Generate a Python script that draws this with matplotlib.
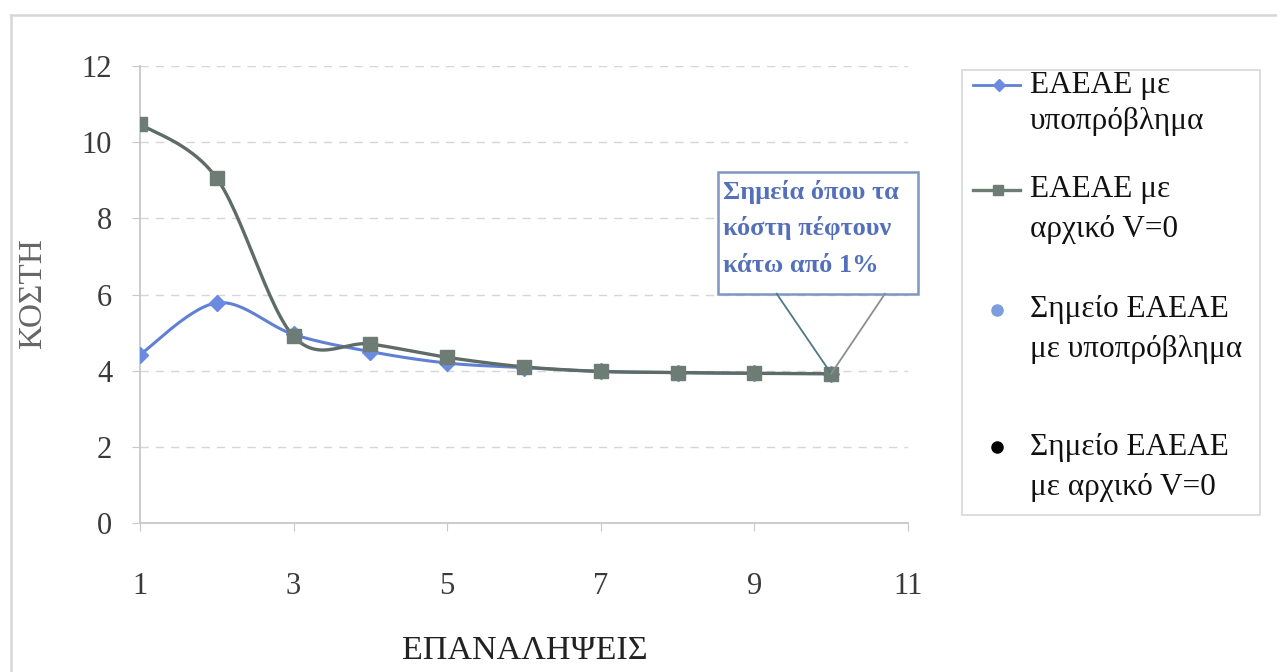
import numpy as np
import matplotlib.pyplot as plt
from matplotlib.lines import Line2D
from matplotlib.patches import Rectangle

plt.rcParams['font.family'] = ['Liberation Serif', 'DejaVu Serif']

# δεδομένα
iterations = [1, 2, 3, 4, 5, 6, 7, 8, 9, 10]
cost_sub = [4.42, 5.78, 4.95, 4.5, 4.2, 4.08, 3.98, 3.95, 3.93, 3.92]
cost_v0 = [10.48, 9.05, 4.9, 4.7, 4.35, 4.1, 3.98, 3.95, 3.93, 3.92]
stop_x = [10]
stop_sub = [3.92]
stop_v0 = [3.92]

labels = [['ΕΑΕΑΕ με', 'υποπρόβλημα'], ['ΕΑΕΑΕ με', 'αρχικό V=0'],
          ['Σημείο ΕΑΕΑΕ', 'με υποπρόβλημα'], ['Σημείο ΕΑΕΑΕ', 'με αρχικό V=0']]
note = ['Σημεία όπου τα', 'κόστη πέφτουν', 'κάτω από 1%']

c_blue = '#5F80D4'
c_gray = '#5F6B66'
W, H = 1277, 672


def smooth(x, y, n=30):
    # καμπύλη τύπου Excel (Catmull-Rom)
    p = np.column_stack([np.asarray(x, float), np.asarray(y, float)])
    p = np.vstack([p[0], p, p[-1]])
    out = []
    t = np.linspace(0, 1, n)[:, None]
    for i in range(1, len(p) - 2):
        p0, p1, p2, p3 = p[i - 1], p[i], p[i + 1], p[i + 2]
        c1 = p1 + (p2 - p0) / 6
        c2 = p2 - (p3 - p1) / 6
        out.append((1 - t) ** 3 * p1 + 3 * (1 - t) ** 2 * t * c1
                   + 3 * (1 - t) * t ** 2 * c2 + t ** 3 * p2)
    s = np.vstack(out)
    return s[:, 0], s[:, 1]


def fx(px):
    return px / W


def fy(py):
    return 1 - py / H


fig = plt.figure(figsize=(12.77, 6.72), dpi=100)
ax = fig.add_axes([fx(140), fy(523), 768 / W, 457 / H])

# εξωτερικό πλαίσιο (φαίνεται μόνο αριστερά και πάνω)
fig.add_artist(Line2D([fx(11), fx(11)], [0, fy(15)], color='#D6D6D6', lw=1.8))
fig.add_artist(Line2D([fx(11), 1], [fy(15), fy(15)], color='#D6D6D6', lw=1.8))

ax.plot(stop_x, stop_sub, 'o', color='#7C9EDD', ms=9, zorder=2)
ax.plot(stop_x, stop_v0, 'o', color='black', ms=7, zorder=2)

sx, sy = smooth(iterations, cost_sub)
ax.plot(sx, sy, color=c_blue, lw=2.2, zorder=3)
ax.plot(iterations, cost_sub, 'D', color='#6A8BE0', ms=8, zorder=4)

gx, gy = smooth(iterations, cost_v0)
ax.plot(gx, gy, color=c_gray, lw=2.4, zorder=5)
ax.plot(iterations, cost_v0, 's', color='#6D7C74', ms=10, zorder=6)

ax.set_xlim(1, 11)
ax.set_ylim(0, 12)
ax.set_xticks([1, 3, 5, 7, 9, 11])
ax.set_yticks(range(0, 13, 2))
ax.grid(axis='y', color='#D6D6D6', linestyle=(0, (6, 5)), lw=1)
ax.set_axisbelow(True)
for s in ['top', 'right']:
    ax.spines[s].set_visible(False)
for s in ['left', 'bottom']:
    ax.spines[s].set_color('#C8C8C8')
    ax.spines[s].set_linewidth(1.3)
ax.tick_params(axis='both', colors='#C8C8C8', labelcolor='#3A3A3A',
               labelsize=22, length=6)
ax.tick_params(axis='x', pad=29)
ax.tick_params(axis='y', pad=14)

fig.text(fx(525), fy(651), 'ΕΠΑΝΑΛΗΨΕΙΣ', fontsize=24.5, color='#222222',
         ha='center', va='center')
fig.text(fx(33), fy(293), 'ΚΟΣΤΗ', fontsize=24, color='#666666',
         ha='center', va='center', rotation=90)

# πλαίσιο σημείωσης
x0, x1, y0, y1 = 8.52, 11.13, 6.02, 9.21
ax.add_patch(Rectangle((x0, y0), x1 - x0, y1 - y0, facecolor='white',
                       edgecolor='#7F97C0', lw=1.8, clip_on=False, zorder=7))
for line, py in zip(note, [192, 228, 265]):
    fig.text(fx(723), fy(py), line, ha='left', va='center', fontsize=19,
             fontweight='bold', color='#5470BA', zorder=8)
ax.plot([9.29, stop_x[0]], [y0, stop_sub[0]], color='#4E7A80', lw=1.3, zorder=7)
ax.plot([10.7, stop_x[0]], [y0, stop_v0[0]], color='#8A8F8C', lw=1.3, zorder=7)

# υπόμνημα
fig.patches.append(Rectangle((fx(962), fy(515)), 298 / W, 445 / H,
                             transform=fig.transFigure, fill=False,
                             edgecolor='#DADADA', lw=1.3))
rows = [[85, 122], [190, 230], [310, 350], [447, 487]]
for i, (lab, ys) in enumerate(zip(labels, rows)):
    py = ys[0]
    if i == 0:
        fig.add_artist(Line2D([fx(973), fx(1020)], [fy(py)] * 2, color=c_blue, lw=2))
        fig.add_artist(Line2D([fx(999)], [fy(py)], color='#6A8BE0', marker='D', ms=6))
    elif i == 1:
        fig.add_artist(Line2D([fx(973), fx(1020)], [fy(py)] * 2, color='#6D7C74', lw=2.4))
        fig.add_artist(Line2D([fx(998)], [fy(py)], color='#6D7C74', marker='s', ms=7))
    else:
        col = '#7C9EDD' if i == 2 else 'black'
        fig.add_artist(Line2D([fx(997)], [fy(py)], color=col, marker='o', ms=8))
    for line, ly in zip(lab, ys):
        fig.text(fx(1030), fy(ly), line, ha='left', va='center',
                 fontsize=22.5, color='#111111')

fig.savefig('out.png', dpi=100)
